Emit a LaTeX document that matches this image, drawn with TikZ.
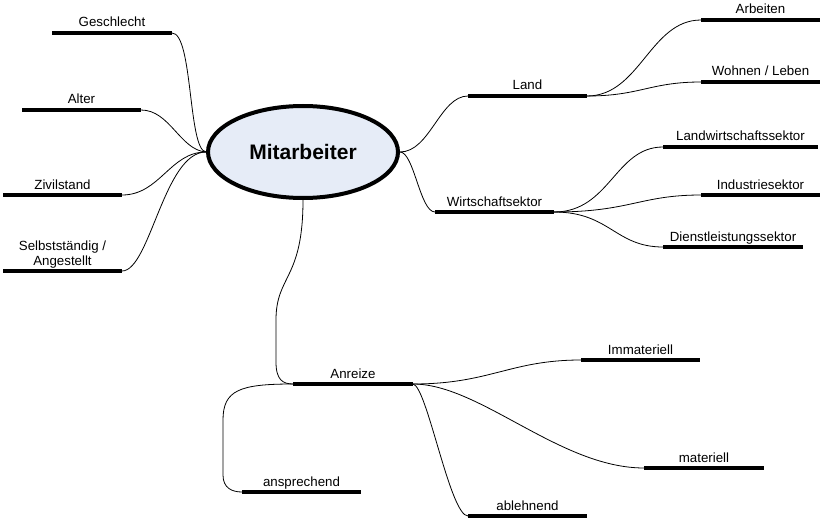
\documentclass[tikz,border=0pt]{standalone}
\usepackage{fontspec}
\setmainfont{Liberation Sans}
\usetikzlibrary{shapes.geometric}
\definecolor{ellfill}{HTML}{E6ECF7}
\tikzset{
  barnode/.style={fill=black, minimum height=4pt, inner sep=0pt, outer sep=0pt, minimum width=#1},
  lbl/.style={anchor=base, inner sep=0pt, font=\fontsize{13.3}{15}\selectfont},
  conn/.style={draw=black, line width=0.8pt},
  central/.style={ellipse, draw=black, line width=4pt, fill=ellfill, minimum width=190pt, minimum height=92pt,
     font=\fontsize{21}{25}\selectfont\bfseries}
}
\begin{document}
\begin{tikzpicture}[x=1pt,y=-1pt]
\useasboundingbox (0,0) rectangle (823,519);
% central
\node[central] (main) at (303,152) {Mitarbeiter};
% bars
\node[barnode=120] (geschlecht) at (112,33) {};
\node[barnode=119] (alter) at (81.5,110) {};
\node[barnode=119] (zivil) at (62.5,195) {};
\node[barnode=119] (selbst) at (62.5,271) {};
\node[barnode=119] (land) at (527.5,96) {};
\node[barnode=119] (wirt) at (494.5,212) {};
\node[barnode=119] (arbeiten) at (760.5,20) {};
\node[barnode=119] (wohnen) at (760.5,82) {};
\node[barnode=155] (landwirt) at (740.5,147) {};
\node[barnode=119] (industrie) at (760.5,195) {};
\node[barnode=140] (dienst) at (733,247) {};
\node[barnode=120] (anreize) at (353,384) {};
\node[barnode=119] (anspr) at (301.5,492) {};
\node[barnode=119] (ablehn) at (527.5,516) {};
\node[barnode=119] (immat) at (640.5,360) {};
\node[barnode=120] (mat) at (704,468) {};
% labels
\node[lbl] (geschlecht-t) at ([yshift=6pt]geschlecht.center) {Geschlecht};
\node[lbl] (alter-t) at ([yshift=6pt]alter.center) {Alter};
\node[lbl] (zivil-t) at ([yshift=6pt]zivil.center) {Zivilstand};
\node[lbl, align=center] (selbst-t) at ([yshift=6pt]selbst.center) {Selbstständig /\\Angestellt};
\node[lbl] (land-t) at ([yshift=6pt]land.center) {Land};
\node[lbl] (wirt-t) at ([yshift=6pt]wirt.center) {Wirtschaftsektor};
\node[lbl] (arbeiten-t) at ([yshift=6pt]arbeiten.center) {Arbeiten};
\node[lbl] (wohnen-t) at ([yshift=6pt]wohnen.center) {Wohnen / Leben};
\node[lbl] (landwirt-t) at ([yshift=6pt]landwirt.center) {Landwirtschaftssektor};
\node[lbl] (industrie-t) at ([yshift=6pt]industrie.center) {Industriesektor};
\node[lbl] (dienst-t) at ([yshift=6pt]dienst.center) {Dienstleistungssektor};
\node[lbl] (anreize-t) at ([yshift=6pt]anreize.center) {Anreize};
\node[lbl] (anspr-t) at ([yshift=6pt]anspr.center) {ansprechend};
\node[lbl] (ablehn-t) at ([yshift=6pt]ablehn.center) {ablehnend};
\node[lbl] (immat-t) at ([yshift=6pt]immat.center) {Immateriell};
\node[lbl] (mat-t) at ([yshift=6pt]mat.center) {materiell};
% helper coordinates
\coordinate (bendA) at (276,320);
\coordinate (bendB) at (276,362);
\coordinate (bendC) at (223,420);
\coordinate (bendD) at (223,475);
% left connectors
\draw[conn] (geschlecht.east) .. controls +(21,0) and +(-18,-2) .. (main.west);
\draw[conn] (alter.east) .. controls +(29,0) and +(-26,-2) .. (main.west);
\draw[conn] (zivil.east) .. controls +(38,0) and +(-36,0) .. (main.west);
\draw[conn] (selbst.east) .. controls +(28,0) and +(-42,0) .. (main.west);
% right connectors
\draw[conn] (main.east) .. controls +(30,0) and +(-28,0) .. (land.west);
\draw[conn] (main.east) .. controls +(14,0) and +(-15,0) .. (wirt.west);
\draw[conn] (land.east) .. controls +(53,0) and +(-51,0) .. (arbeiten.west);
\draw[conn] (land.east) .. controls +(53,0) and +(-51,0) .. (wohnen.west);
\draw[conn] (wirt.east) .. controls +(56,0) and +(-48,0) .. (landwirt.west);
\draw[conn] (wirt.east) .. controls +(76,0) and +(-61,0) .. (industrie.west);
\draw[conn] (wirt.east) .. controls +(56,0) and +(-48,0) .. (dienst.west);
% bottom connectors
\draw[conn] (main.south) .. controls +(0,80) and +(0,-45) .. (bendA) -- (bendB) .. controls +(0,18) and +(-10,0) .. (anreize.west);
\draw[conn] (anreize.west) .. controls +(-53,0) and +(0,-30) .. (bendC) -- (bendD) .. controls +(0,13) and +(-10,0) .. (anspr.west);
\draw[conn] (anreize.east) .. controls +(14,2) and +(-18,0) .. (ablehn.west);
\draw[conn] (anreize.east) .. controls +(77,0) and +(-71,0) .. (immat.west);
\draw[conn] (anreize.east) .. controls +(67,0) and +(-84,0) .. (mat.west);
\end{tikzpicture}
\end{document}
